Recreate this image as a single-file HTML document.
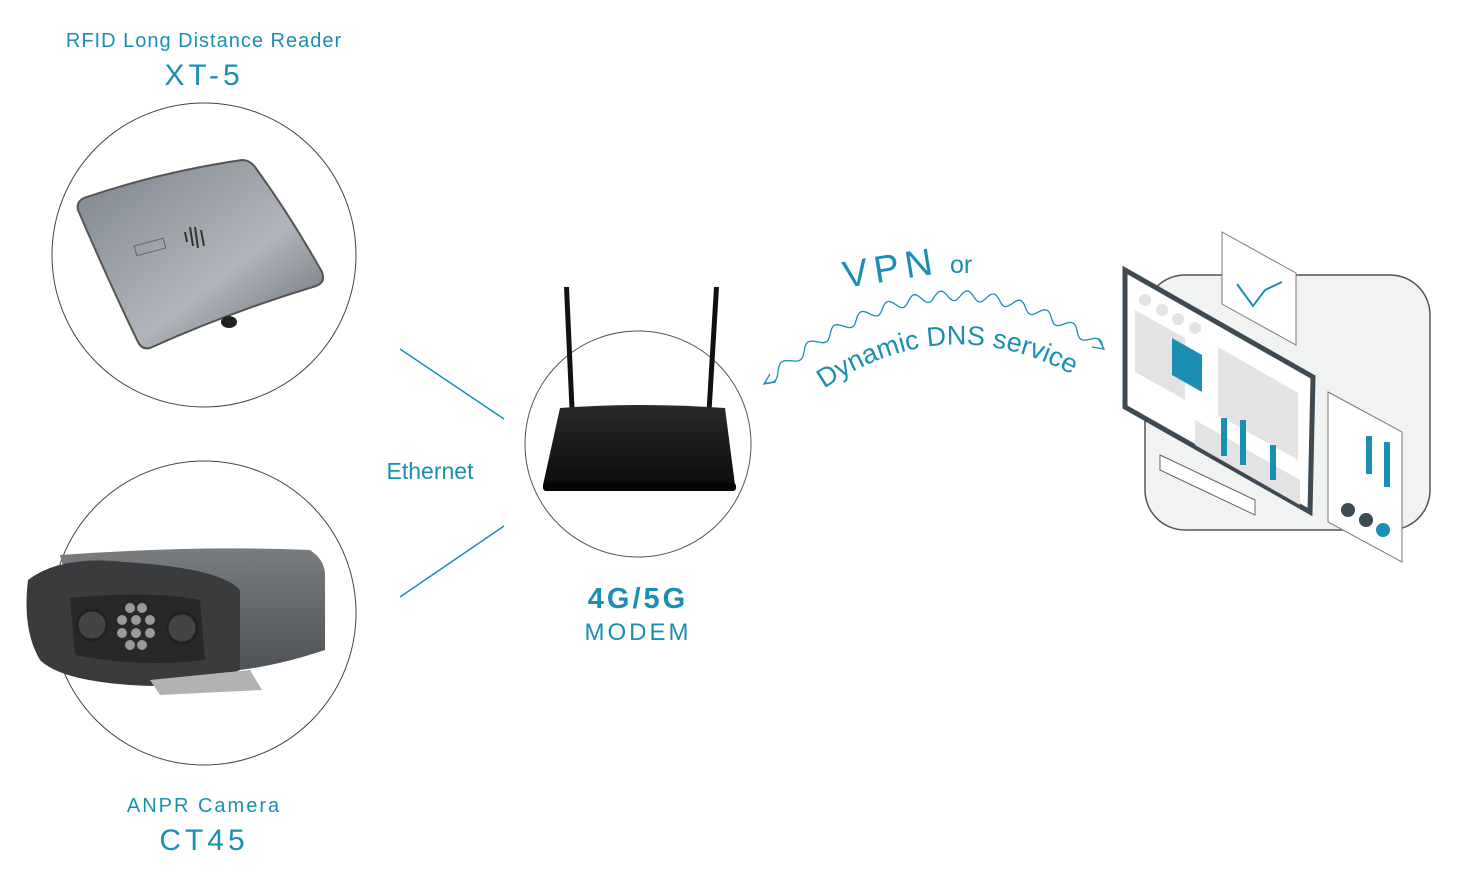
<!DOCTYPE html>
<html><head><meta charset="utf-8"><style>
html,body{margin:0;padding:0;background:#fff;}
svg{display:block}
text{font-family:"Liberation Sans",sans-serif;fill:#1a8fb3}
</style></head><body>
<svg width="1462" height="875" viewBox="0 0 1462 875" xmlns="http://www.w3.org/2000/svg">
<defs>
<linearGradient id="rg" x1="0" y1="0" x2="1" y2="1"><stop offset="0" stop-color="#7d838b"/><stop offset="0.6" stop-color="#b0b5bb"/><stop offset="1" stop-color="#646a72"/></linearGradient>
<linearGradient id="cg" x1="0" y1="0" x2="0" y2="1"><stop offset="0" stop-color="#7a7d80"/><stop offset="1" stop-color="#4f5256"/></linearGradient>
<linearGradient id="bk" x1="0" y1="0" x2="0" y2="1"><stop offset="0" stop-color="#2a2a2a"/><stop offset="1" stop-color="#0a0a0a"/></linearGradient>
</defs>
<text x="204" y="47" font-size="20" text-anchor="middle" letter-spacing="1">RFID Long Distance Reader</text>
<text x="204" y="85" font-size="30" text-anchor="middle" letter-spacing="4">XT-5</text>
<text x="204" y="812" font-size="20" text-anchor="middle" letter-spacing="2">ANPR Camera</text>
<text x="204" y="850" font-size="30" text-anchor="middle" letter-spacing="4">CT45</text>
<text x="430" y="479" font-size="23" text-anchor="middle">Ethernet</text>
<text x="638" y="608" font-size="29" font-weight="bold" text-anchor="middle" letter-spacing="3">4G/5G</text>
<text x="638" y="640" font-size="24" text-anchor="middle" letter-spacing="3">MODEM</text>
<circle cx="204" cy="255" r="152" fill="none" stroke="#444" stroke-width="1"/>
<circle cx="204" cy="613" r="152" fill="none" stroke="#444" stroke-width="1"/>
<circle cx="638" cy="444" r="113" fill="none" stroke="#555" stroke-width="1"/>
<line x1="400" y1="349" x2="504" y2="419" stroke="#1a8fb3" stroke-width="1.5"/>
<line x1="400" y1="597" x2="504" y2="526" stroke="#1a8fb3" stroke-width="1.5"/>
<path d="M84,198 Q160,172 242,160 Q250,160 255,167 Q290,215 322,272 Q326,282 316,286 Q230,312 150,348 Q142,350 138,342 Q108,280 78,210 Q76,202 84,198 Z" fill="url(#rg)" stroke="#555" stroke-width="2"/>
<ellipse cx="229" cy="322" rx="8" ry="6" fill="#222"/>
<g stroke="#333" stroke-width="2"><line x1="185" y1="232" x2="187" y2="242"/><line x1="190" y1="227" x2="193" y2="246"/><line x1="195" y1="227" x2="198" y2="248"/><line x1="201" y1="230" x2="204" y2="246"/></g>
<rect x="135" y="242" width="30" height="10" fill="none" stroke="#666" stroke-width="1" transform="rotate(-15 150 247)"/>
<path d="M60,555 Q200,545 310,550 Q325,560 325,575 L325,650 Q280,665 240,670 L90,670 Z" fill="url(#cg)"/>
<path d="M28,580 Q60,555 125,562 Q220,568 240,590 L240,670 Q200,690 130,685 Q60,680 40,660 Q22,630 28,580 Z" fill="#3a3b3d"/>
<path d="M70,598 Q150,590 200,600 L205,660 Q140,668 75,655 Z" fill="#27282a"/>
<circle cx="92" cy="625" r="15" fill="#444" stroke="#222" stroke-width="3"/>
<circle cx="182" cy="628" r="15" fill="#444" stroke="#222" stroke-width="3"/>
<g fill="#999"><circle cx="130" cy="608" r="5"/><circle cx="142" cy="608" r="5"/><circle cx="122" cy="620" r="5"/><circle cx="136" cy="620" r="5"/><circle cx="150" cy="620" r="5"/><circle cx="122" cy="633" r="5"/><circle cx="136" cy="633" r="5"/><circle cx="150" cy="633" r="5"/><circle cx="130" cy="645" r="5"/><circle cx="142" cy="645" r="5"/></g>
<path d="M150,680 L250,670 L262,690 L160,695 Z" fill="#b0b2b4"/>
<path d="M564,287 L569,287 L575,420 L570,420 Z" fill="#111"/>
<path d="M714,287 L719,287 L711,420 L706,420 Z" fill="#111"/>
<path d="M560,408 Q640,402 725,408 L735,485 Q640,492 543,485 Z" fill="url(#bk)"/>
<rect x="543" y="483" width="193" height="8" rx="3" fill="#050505"/>
<rect x="1145" y="275" width="285" height="255" rx="40" fill="#f1f2f2" stroke="#555" stroke-width="1.5"/>
<path d="M1160,455 L1255,500 L1255,515 L1160,470 Z" fill="#fff" stroke="#666"/>
<path d="M1125,270 L1313,377 L1310,512 L1125,407 Z" fill="#fff" stroke="#3d4a52" stroke-width="5"/>
<g fill="#e3e3e3"><circle cx="1145" cy="300" r="6"/><circle cx="1162" cy="310" r="6"/><circle cx="1178" cy="319" r="6"/><circle cx="1195" cy="328" r="6"/>
<path d="M1135,310 L1185,338 L1185,400 L1135,372 Z"/>
<path d="M1218,347 L1298,393 L1298,460 L1218,415 Z"/>
<path d="M1195,420 L1300,480 L1300,505 L1195,445 Z"/></g>
<path d="M1172,338 L1202,355 L1202,392 L1172,375 Z" fill="#1a8fb3"/>
<g fill="#1a8fb3"><rect x="1221" y="418" width="6" height="38"/><rect x="1240" y="420" width="6" height="45"/><rect x="1270" y="445" width="6" height="35"/></g>
<path d="M1222,232 L1296,273 L1296,345 L1222,304 Z" fill="#fff" stroke="#777"/>
<polyline points="1237,284 1253,306 1265,290 1282,282" fill="none" stroke="#1a8fb3" stroke-width="2"/>
<path d="M1328,392 L1402,432 L1402,562 L1328,522 Z" fill="#fff" stroke="#777"/>
<g fill="#1a8fb3"><rect x="1366" y="436" width="6" height="38"/><rect x="1384" y="442" width="6" height="45"/></g>
<circle cx="1348" cy="510" r="7" fill="#3d4a52"/><circle cx="1366" cy="520" r="7" fill="#3d4a52"/><circle cx="1383" cy="530" r="7" fill="#1a8fb3"/>
<path id="wave" fill="none" stroke="#1a8fb3" stroke-width="1.3"/>
<path d="M770,374 L764,384 L776,382 M1098,338 L1104,349 L1092,347" fill="none" stroke="#1a8fb3" stroke-width="1.3"/>
<path id="arc" d="M815,395 Q945,302 1082,380" fill="none"/>
<text font-size="27"><textPath href="#arc" startOffset="50%" text-anchor="middle">Dynamic DNS service</textPath></text>
<text x="845" y="288" font-size="38" letter-spacing="6" transform="rotate(-9 845 288)">VPN</text>
<text x="950" y="273" font-size="25">or</text>
</svg>
<script>
(function(){var p=[],N=400;for(var i=0;i<=N;i++){var t=i/N;var x0=765,y0=383,cx=935,cy=228,x1=1103,y1=348;
var x=(1-t)*(1-t)*x0+2*(1-t)*t*cx+t*t*x1,y=(1-t)*(1-t)*y0+2*(1-t)*t*cy+t*t*y1;
var dx=2*(1-t)*(cx-x0)+2*t*(x1-cx),dy=2*(1-t)*(cy-y0)+2*t*(y1-cy),l=Math.hypot(dx,dy);
var a=5*Math.sin(t*Math.PI*26);x+=-dy/l*a;y+=dx/l*a;p.push(x.toFixed(1)+","+y.toFixed(1));}
document.getElementById("wave").setAttribute("d","M"+p.join(" L"));})();
</script>
</body></html>
